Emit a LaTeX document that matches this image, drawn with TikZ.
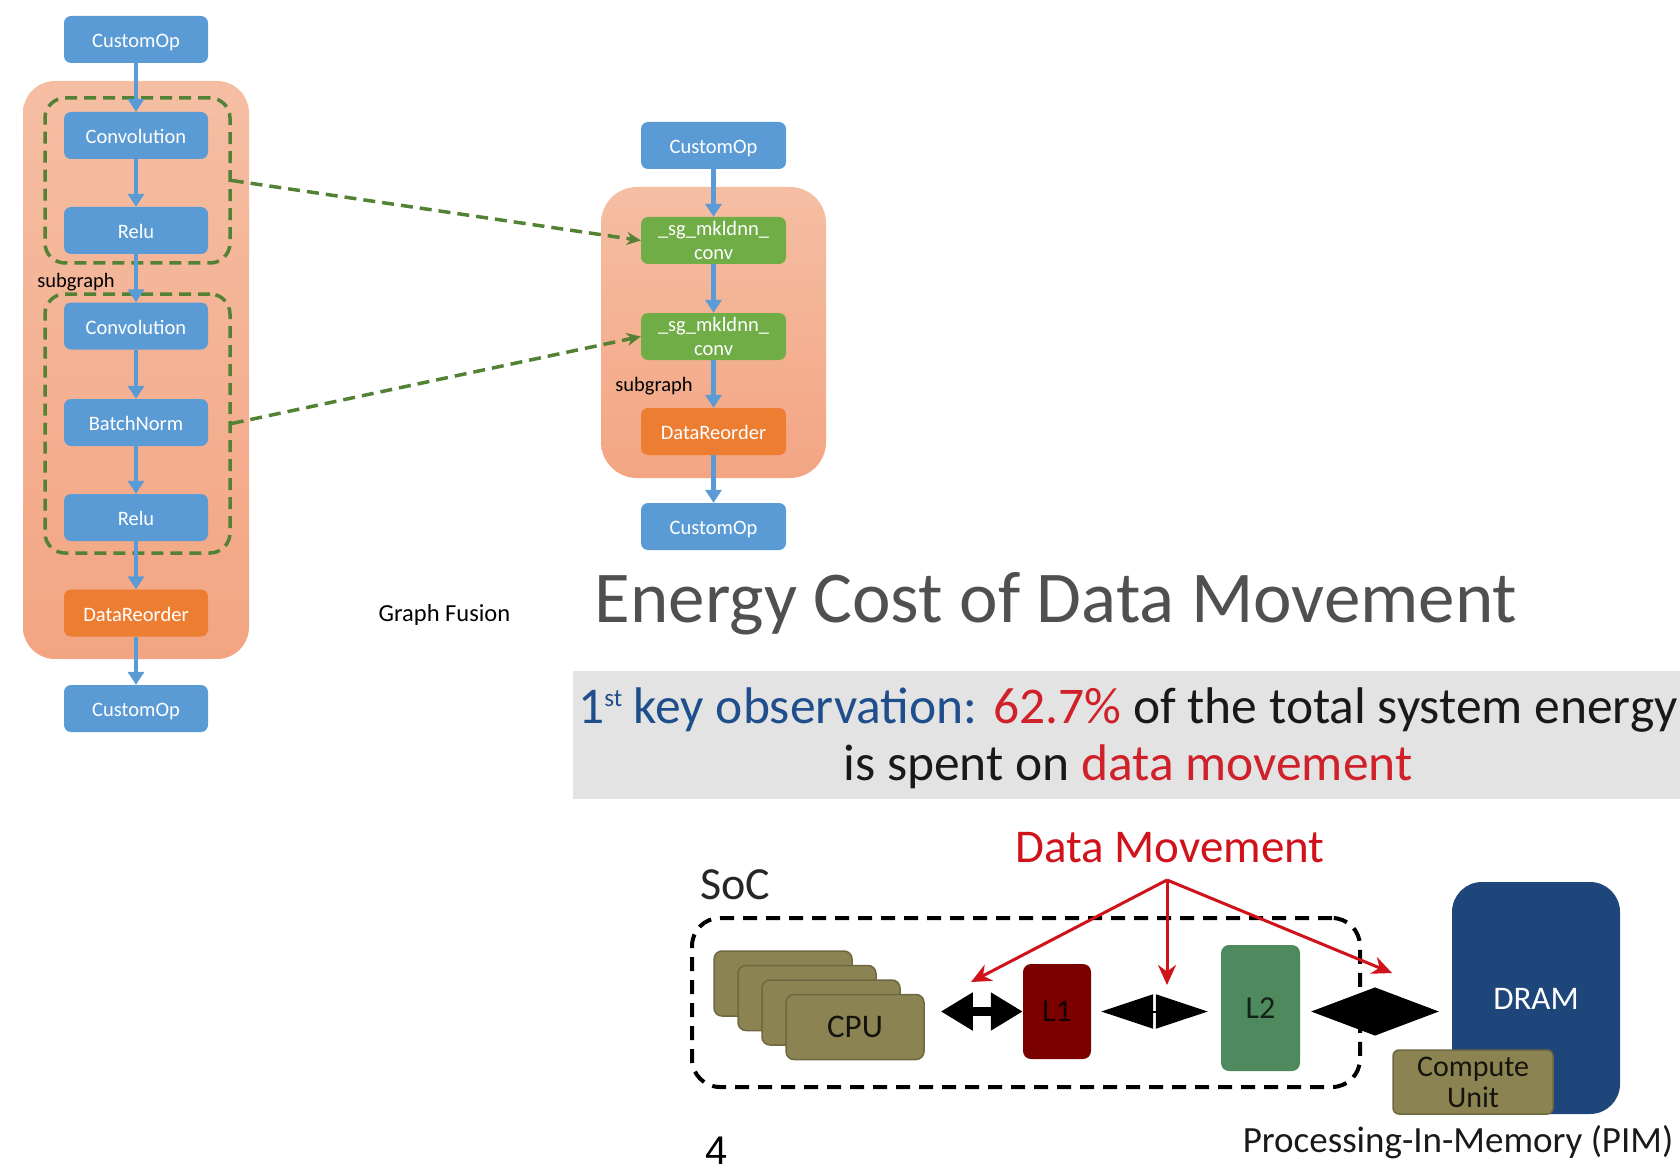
\documentclass[tikz,border=0pt]{standalone}
\usepackage{fontspec}
\setmainfont{Carlito}
\newfontfamily\numfont{Liberation Sans}
\usetikzlibrary{arrows.meta}
\definecolor{nodeblue}{HTML}{5B9BD5}
\definecolor{nodegreen}{HTML}{70AD47}
\definecolor{nodeorange}{HTML}{ED7D31}
\definecolor{salmontop}{HTML}{F5BEA3}
\definecolor{salmonbot}{HTML}{F3A583}
\definecolor{dashgreen}{HTML}{548235}
\definecolor{titlegray}{HTML}{505050}
\definecolor{bandgray}{HTML}{E3E3E3}
\definecolor{obsblue}{HTML}{1F4E8C}
\definecolor{obsred}{HTML}{D0202A}
\definecolor{dmred}{HTML}{D0121B}
\definecolor{olivefill}{HTML}{8B8452}
\definecolor{olivedark}{HTML}{6E6840}
\definecolor{lonered}{HTML}{7B0000}
\definecolor{ltwogreen}{HTML}{4E8A5E}
\definecolor{dramblue}{HTML}{1F467A}
\begin{document}
\begin{tikzpicture}[x=1pt,y=-1pt,
  opbox/.style={rectangle, rounded corners=7pt, minimum width=144pt, minimum height=47pt, inner sep=0pt, text=white, font=\fontsize{20.5}{23}\selectfont, align=center, text depth=0pt},
  oneline/.style={text height=16pt},
  blueop/.style={opbox, oneline, fill=nodeblue},
  greenop/.style={opbox, fill=nodegreen, font=\fontsize{20.5}{24.5}\selectfont},
  orangeop/.style={opbox, oneline, fill=nodeorange},
  flow/.style={draw=nodeblue, line width=4.5pt, -{Triangle[length=13pt,width=16pt]}},
  container/.style={rectangle, rounded corners=32pt, top color=salmontop, bottom color=salmonbot, draw=none, inner sep=0pt},
  subbox/.style={rectangle, draw=dashgreen, line width=3.5pt, dash pattern=on 12pt off 7pt, rounded corners=20pt, inner sep=0pt},
  fuse/.style={draw=dashgreen, line width=3.5pt, dash pattern=on 12pt off 7pt, -{Stealth[length=14pt,width=13pt]}},
  lbl/.style={text=black, font=\fontsize{20.5}{23}\selectfont, inner sep=0pt},
  cpubox/.style={rectangle, fill=olivefill, draw=olivedark, line width=1.5pt, rounded corners=8pt, minimum width=138pt, minimum height=65pt, inner sep=0pt, text=black!85!olivefill, font=\fontsize{33}{36}\selectfont},
  redarrow/.style={draw=dmred, line width=3pt, -{Stealth[length=20pt,width=18pt]}}
]
\useasboundingbox (0,0) rectangle (1680,1174);

% ---------- left graph ----------
\node[container, minimum width=226pt, minimum height=578pt] (lcont) at (136,370) {};
\node[subbox, minimum width=185pt, minimum height=165pt] (sub1) at (137.5,180.5) {};
\node[subbox, minimum width=185pt, minimum height=259pt] (sub2) at (137.5,423.5) {};
\node[blueop] (l0) at (136,39.5) {CustomOp};
\node[blueop] (l1) at (136,135.5) {Convolution};
\node[blueop] (l2) at (136,230.5) {Relu};
\node[blueop] (l3) at (136,326) {Convolution};
\node[blueop] (l4) at (136,422.5) {BatchNorm};
\node[blueop] (l5) at (136,517.5) {Relu};
\node[orangeop] (l6) at (136,613) {DataReorder};
\node[blueop] (l7) at (136,708.5) {CustomOp};
\node[lbl] (lsub) at (76,282) {subgraph};

% ---------- right graph ----------
\node[container, rounded corners=36pt, minimum width=225pt, minimum height=291pt] (rcont) at (713.5,332.5) {};
\node[blueop, minimum width=145pt] (r0) at (713.5,145.5) {CustomOp};
\node[greenop, minimum width=145pt] (r1) at (713.5,240.5) {\_sg\_mkldnn\_\\conv};
\node[greenop, minimum width=145pt] (r2) at (713.5,336.5) {\_sg\_mkldnn\_\\conv};
\node[orangeop, minimum width=145pt] (r3) at (713.5,431.5) {DataReorder};
\node[blueop, minimum width=145pt] (r4) at (713.5,526.5) {CustomOp};
\node[lbl] (rsub) at (654,386) {subgraph};

\foreach \a/\b in {l0/l1,l1/l2,l2/l3,l3/l4,l4/l5,l5/l6,l6/l7,r0/r1,r1/r2,r2/r3,r3/r4}
  \draw[flow] (\a) -- (\b);

\draw[fuse] (sub1.east) -- (r1.west);
\draw[fuse] (sub2.east) -- (r2.west);

\node[lbl, font=\fontsize{24.5}{28}\selectfont] (gf) at (444.5,615) {Graph Fusion};

% ---------- energy cost ----------
\node[anchor=base, inner sep=0pt, text=titlegray, font=\fontsize{73}{80}\selectfont] (title) at (1056,622) {Energy Cost of Data Movement};
\node[rectangle, fill=bandgray, minimum width=1107pt, minimum height=128pt, inner sep=0pt] (band) at (1126.5,735) {};
\node[anchor=base, inner sep=0pt, font=\fontsize{51.5}{56}\selectfont, text=black!90] (obs1) at (1128,723)
  {{\color{obsblue}1\raisebox{17pt}{\fontsize{25}{25}\selectfont st} key observation:}\hspace{16pt}{\color{obsred}62.7\%} of the total system energy};
\node[anchor=base, inner sep=0pt, font=\fontsize{51.5}{56}\selectfont, text=black!90] (obs2) at (1128,780)
  {is spent on {\color{obsred}data movement}};

% ---------- SoC diagram ----------
\node[rectangle, draw=black, line width=4pt, dash pattern=on 14pt off 9pt, rounded corners=28pt, minimum width=668pt, minimum height=169pt, inner sep=0pt] (soc) at (1026,1002.5) {};
\node[anchor=base, inner sep=0pt, font=\fontsize{46}{50}\selectfont, text=black!85] (soclbl) at (735,899) {SoC};
\node[anchor=base, inner sep=0pt, font=\fontsize{47}{50}\selectfont, text=dmred] (dm) at (1170,862) {Data Movement};

\node[cpubox] (cpua) at (783,983.5) {};
\node[cpubox] (cpub) at (807,998) {};
\node[cpubox] (cpuc) at (831,1012.5) {};
\node[cpubox] (cpu) at (855,1027) {CPU};

\node[rectangle, fill=lonered, rounded corners=8pt, minimum width=68pt, minimum height=95pt, inner sep=0pt, text=black!80!lonered, font=\fontsize{32}{36}\selectfont] (lone) at (1057,1011.5) {L1};
\node[rectangle, fill=ltwogreen, rounded corners=8pt, minimum width=79pt, minimum height=126pt, inner sep=0pt, text=black!75!ltwogreen, font=\fontsize{32}{36}\selectfont] (ltwo) at (1260.5,1008) {L2};
\node[rectangle, fill=dramblue, rounded corners=30pt, minimum width=168pt, minimum height=232pt, inner sep=0pt] (dram) at (1536,998) {};
\node[inner sep=0pt, text=white, font=\fontsize{33}{36}\selectfont] (dramlbl) at (1536,999) {DRAM};
\node[rectangle, fill=olivefill, draw=olivedark, line width=1.5pt, rounded corners=6pt, minimum width=160pt, minimum height=64pt, inner sep=0pt, align=center, text=black!85!olivefill, font=\fontsize{30}{31}\selectfont] (cu) at (1473,1082) {Compute\\Unit};
\node[inner sep=0pt, text=black!90, font=\fontsize{37}{40}\selectfont] (pim) at (1458,1142) {Processing-In-Memory (PIM)};

% black double arrows
\draw[draw=black, line width=9pt, {Triangle[length=32pt,width=36pt]}-{Triangle[length=32pt,width=36pt]}, shorten <=16pt] (cpu.east |- lone) -- (lone.west);
\draw[draw=black, line width=2pt, {Triangle[length=52pt,width=34pt]}-{Triangle[length=52pt,width=34pt]}, shorten <=10pt, shorten >=13pt] (lone.east) -- (ltwo.west |- lone);
\draw[draw=black, line width=1pt, {Triangle[length=64pt,width=48pt]}-{Triangle[length=64pt,width=48pt]}, shorten <=11pt, shorten >=13pt] (ltwo.east |- lone) -- (dram.west |- lone);

% red arrows
\coordinate (apex) at (1167,880);
\coordinate (t1) at (971,982);
\coordinate (t2) at (1167,985);
\coordinate (t3) at (1392,973);
\draw[redarrow] (apex) -- (t1);
\draw[redarrow] (apex) -- (t2);
\draw[redarrow] (apex) -- (t3);

\node[inner sep=0pt, font=\numfont\fontsize{40}{44}\selectfont, text=black] (pagenum) at (717,1151) {4};
\end{tikzpicture}
\end{document}
